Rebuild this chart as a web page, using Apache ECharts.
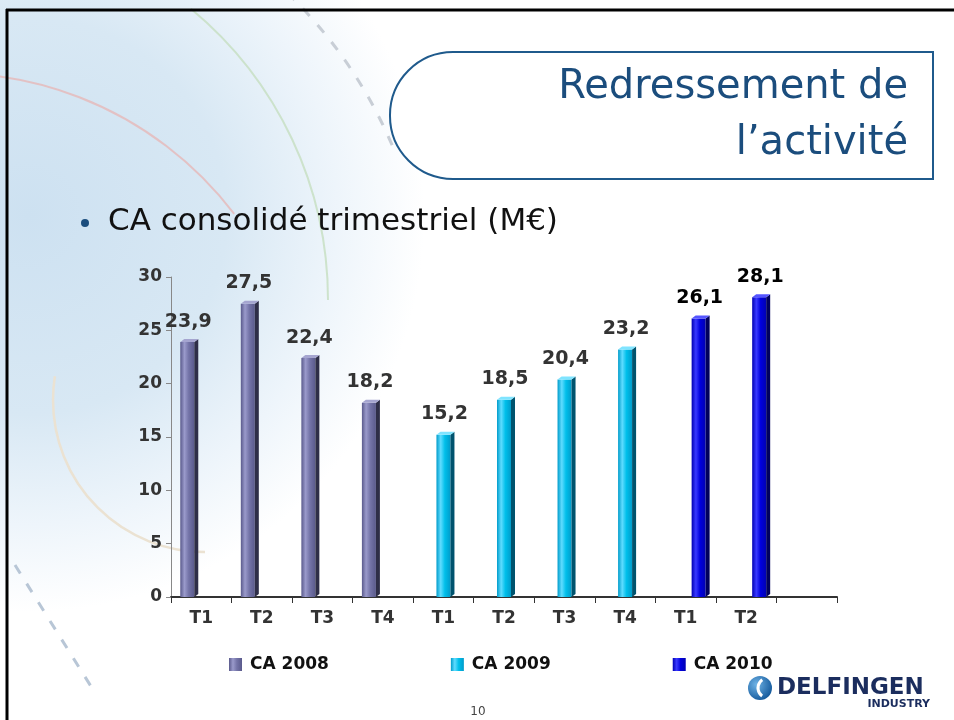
<!DOCTYPE html>
<html>
<head>
<meta charset="utf-8">
<script src="https://cdn.jsdelivr.net/npm/echarts@6/dist/echarts.min.js"></script>
<style>
  html, body { margin: 0; padding: 0; background: #fff; }
  #chart { width: 954px; height: 720px; }
</style>
</head>
<body>
<div id="chart"></div>
<script>
const categories = ['T1', 'T2', 'T3', 'T4', 'T1', 'T2', 'T3', 'T4', 'T1', 'T2', '']
const ca2008 = [23.9, 27.5, 22.4, 18.2, null, null, null, null, null, null, null]
const ca2009 = [null, null, null, null, 15.2, 18.5, 20.4, 23.2, null, null, null]
const ca2010 = [null, null, null, null, null, null, null, null, 26.1, 28.1, null]
const seriesNames = ['CA 2008', 'CA 2009', 'CA 2010']
const yMin = 0
const yMax = 30
const yStep = 5

const FONT = 'DejaVu Sans'

const fmt = (v) => v.toFixed(1).replace('.', ',')

// couleurs des barres (face, côté, dessus)
const palette = [
  { light: '#9a9acb', mid: '#7474a8', dark: '#5a5a8c', side: '#2e2e48', top: '#a5a5d0', label: '#333333' },
  { light: '#5fdcff', mid: '#00bfea', dark: '#009ccb', side: '#00536e', top: '#7fe4ff', label: '#333333' },
  { light: '#3a3aff', mid: '#0000dd', dark: '#0000b4', side: '#00005e', top: '#5555ff', label: '#000000' },
]
// décalage horizontal de chaque série dans la catégorie (px)
const offsets = [-12, 2, 15]

function toPairs(arr) {
  const out = []
  arr.forEach((v, i) => {
    if (v !== null) out.push([i, v])
  })
  return out
}

function frontGradient(c) {
  return {
    type: 'linear', x: 0, y: 0, x2: 1, y2: 0,
    colorStops: [
      { offset: 0, color: c.dark },
      { offset: 0.3, color: c.light },
      { offset: 0.6, color: c.mid },
      { offset: 1, color: c.dark },
    ],
  }
}

function bar3d(idx) {
  const c = palette[idx]
  return function (params, api) {
    const v = api.value(1)
    const top = api.coord([api.value(0), v])
    const base = api.coord([api.value(0), 0])
    const cx = top[0] + offsets[idx]
    const fw = 14
    const sd = 4
    const dp = 3
    const x0 = cx - 9
    const x1 = x0 + fw
    const x2 = x1 + sd
    const yt = top[1]
    const yb = base[1]
    return {
      type: 'group',
      children: [
        { type: 'rect', shape: { x: x0, y: yt, width: fw, height: yb - yt }, style: { fill: frontGradient(c) } },
        { type: 'polygon', shape: { points: [[x1, yt], [x2, yt - dp], [x2, yb - dp], [x1, yb]] }, style: { fill: c.side } },
        { type: 'polygon', shape: { points: [[x0, yt], [x1, yt], [x2, yt - dp], [x0 + sd, yt - dp]] }, style: { fill: c.top } },
        {
          type: 'text', x: cx - 1, y: yt - 11,
          style: { text: fmt(v), fill: c.label, font: 'bold 19px "' + FONT + '"', align: 'center', verticalAlign: 'bottom' },
        },
      ],
    }
  }
}

const chart = echarts.init(document.getElementById('chart'))

const series = [ca2008, ca2009, ca2010].map((arr, idx) => ({
  name: seriesNames[idx],
  type: 'custom',
  renderItem: bar3d(idx),
  encode: { x: 0, y: 1 },
  itemStyle: { color: frontGradient(palette[idx]) },
  data: toPairs(arr),
  z: 5,
}))

const titleColor = '#1b4d7d'

chart.setOption({
  animation: false,
  backgroundColor: '#ffffff',
  textStyle: { fontFamily: FONT },
  grid: { left: 171, right: 117, top: 277, bottom: 123 },
  legend: {
    data: seriesNames,
    left: 229,
    top: 656,
    padding: 0,
    icon: 'rect',
    itemWidth: 13,
    itemHeight: 13,
    itemGap: 122,
    textStyle: { fontFamily: FONT, fontWeight: 'bold', fontSize: 17, color: '#111', padding: [0, 0, 0, 3] },
  },
  xAxis: {
    type: 'category',
    data: categories,
    boundaryGap: true,
    axisLine: { lineStyle: { color: '#333', width: 2 } },
    axisTick: { show: true, interval: 0, length: 6, lineStyle: { color: '#333' } },
    axisLabel: { interval: 0, margin: 13, fontFamily: FONT, fontWeight: 'bold', fontSize: 17, color: '#333' },
    splitLine: { show: false },
  },
  yAxis: {
    type: 'value',
    min: yMin,
    max: yMax,
    interval: yStep,
    axisLine: { show: true, lineStyle: { color: '#888', width: 1 } },
    axisTick: { show: true, length: 5, lineStyle: { color: '#888' } },
    axisLabel: { margin: 9, fontFamily: FONT, fontWeight: 'bold', fontSize: 17, color: '#333' },
    splitLine: { show: false },
  },
  graphic: [
    // fond bleu clair en dégradé
    {
      type: 'rect', z: -100, silent: true,
      shape: { x: 0, y: 0, width: 954, height: 720 },
      style: {
        fill: {
          type: 'radial', x: 0.03, y: 0.3, r: 0.55,
          colorStops: [
            { offset: 0, color: '#cde1f1' },
            { offset: 0.5, color: '#d8e8f4' },
            { offset: 0.78, color: '#eef5fb' },
            { offset: 1, color: '#ffffff' },
          ],
        },
      },
    },
    // arcs décoratifs
    { type: 'arc', z: -90, silent: true, shape: { cx: -50, cy: 430, r: 357, startAngle: -1.75, endAngle: -0.65 }, style: { stroke: '#e6b8b8', lineWidth: 2, fill: null, opacity: 0.8 } },
    { type: 'arc', z: -90, silent: true, shape: { cx: -50, cy: 300, r: 378, startAngle: -0.88, endAngle: 0.0 }, style: { stroke: '#c5dfc0', lineWidth: 2, fill: null, opacity: 0.8 } },
    { type: 'arc', z: -90, silent: true, shape: { cx: -40, cy: 330, r: 470, startAngle: -0.8, endAngle: -0.4 }, style: { stroke: '#c8ced6', lineWidth: 3, fill: null, lineDash: [10, 12] } },
    { type: 'arc', z: -90, silent: true, shape: { cx: 205, cy: 400, r: 152, startAngle: Math.PI * 0.5, endAngle: Math.PI * 1.05 }, style: { stroke: '#ebe2d2', lineWidth: 2.5, fill: null } },
    { type: 'line', z: -90, silent: true, shape: { x1: 15, y1: 565, x2: 92, y2: 688 }, style: { stroke: '#b8c6d6', lineWidth: 3, lineDash: [10, 12] } },
    // cadre
    { type: 'line', silent: true, shape: { x1: 6, y1: 10, x2: 954, y2: 10 }, style: { stroke: '#000', lineWidth: 3 } },
    { type: 'line', silent: true, shape: { x1: 7, y1: 9, x2: 7, y2: 720 }, style: { stroke: '#000', lineWidth: 3 } },
    // cartouche du titre
    {
      type: 'rect', silent: true,
      shape: { x: 390, y: 52, width: 543, height: 127, r: [63, 0, 0, 63] },
      style: { fill: '#ffffff', stroke: '#1f5a8c', lineWidth: 2 },
    },
    { type: 'text', silent: true, x: 908, y: 88, style: { text: 'Redressement de', font: '40px "' + FONT + '"', fill: titleColor, align: 'right', verticalAlign: 'middle' } },
    { type: 'text', silent: true, x: 908, y: 144, style: { text: 'l\u2019activité', font: '40px "' + FONT + '"', fill: titleColor, align: 'right', verticalAlign: 'middle' } },
    // puce
    { type: 'circle', silent: true, shape: { cx: 85, cy: 223, r: 4 }, style: { fill: titleColor } },
    { type: 'text', silent: true, x: 108, y: 222, style: { text: 'CA consolidé trimestriel (M€)', font: '31px "' + FONT + '"', fill: '#111', verticalAlign: 'middle' } },
    // logo
    {
      type: 'circle', silent: true, shape: { cx: 760, cy: 688, r: 12 },
      style: { fill: { type: 'radial', x: 0.35, y: 0.35, r: 0.7, colorStops: [{ offset: 0, color: '#6fb3e6' }, { offset: 1, color: '#155a9c' }] } },
    },
    { type: 'arc', silent: true, shape: { cx: 768, cy: 688, r: 10, startAngle: 2.2, endAngle: 4.1 }, style: { stroke: '#ffffff', lineWidth: 3, fill: null } },
    { type: 'text', silent: true, x: 777, y: 688, style: { text: 'DELFINGEN', font: 'bold 23px "' + FONT + '"', fill: '#1b2d5e', verticalAlign: 'middle' } },
    { type: 'text', silent: true, x: 930, y: 704, style: { text: 'INDUSTRY', font: 'bold 11px "' + FONT + '"', fill: '#1b2d5e', align: 'right', verticalAlign: 'middle' } },
    // numéro de page
    { type: 'text', silent: true, x: 478, y: 712, style: { text: '10', font: '12px "' + FONT + '"', fill: '#444', align: 'center', verticalAlign: 'middle' } },
  ],
  series: series,
})
</script>
</body>
</html>
